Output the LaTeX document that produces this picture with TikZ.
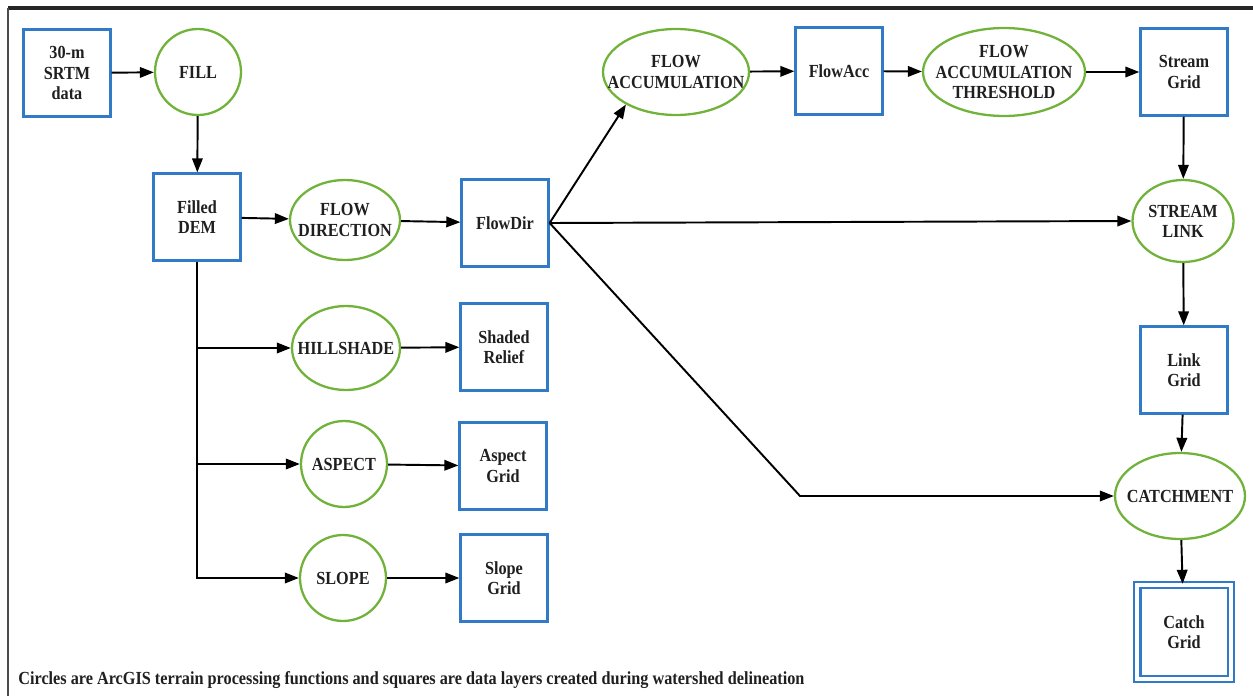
\documentclass[tikz,border=0pt]{standalone}
\usepackage{fontspec}
\setmainfont{Liberation Serif}[FakeStretch=0.88]
\usepackage{xcolor}
\usepackage{tikz}
\usetikzlibrary{positioning,arrows.meta,shapes.geometric,calc}

\definecolor{boxblue}{RGB}{48,122,200}
\definecolor{funcgreen}{RGB}{112,178,58}

\begin{document}
\begin{tikzpicture}[
  x=0.02cm, y=-0.02cm,
  >=Triangle,
  every node/.style={font=\fontsize{10.5}{11.5}\selectfont\bfseries, text=black!88},
  databox/.style={draw=boxblue, line width=1.3pt, minimum width=1.74cm,
    minimum height=1.74cm, align=center, inner sep=0pt},
  catchbox/.style={databox, double=white, double distance=2.5pt,
    minimum width=1.88cm, minimum height=1.88cm},
  func/.style={draw=funcgreen, ellipse, line width=1.3pt, align=center,
    inner sep=-12pt},
  arr/.style={-{Triangle[length=8pt,width=6pt]}, line width=1.1pt},
]
\useasboundingbox (0,0) rectangle (1253,696);

% Frame
\draw[line width=2pt, black!85] (8,8) -- (1253,8);
\draw[line width=0.8pt, black!70] (8,8) -- (8,696);

% Input and fill
\node[databox] (srtm) at (67,73) {30-m\\SRTM\\data};
\node[func, minimum width=1.72cm, minimum height=1.72cm] (fill) at (198,72) {FILL};
\node[databox] (dem) at (197,217) {Filled\\DEM};

% Flow direction
\node[func, minimum width=2.2cm, minimum height=1.6cm] (fdir) at (345,220) {FLOW\\DIRECTION};
\node[databox] (fd) at (505,223) {FlowDir};

% Terrain layers
\node[func, minimum width=2.16cm, minimum height=1.68cm] (hill) at (346,348) {HILLSHADE};
\node[databox] (shaded) at (504,347) {Shaded\\Relief};
\node[func, minimum width=1.72cm, minimum height=1.72cm] (aspect) at (344,464) {ASPECT};
\node[databox] (aspgrid) at (503,466) {Aspect\\Grid};
\node[func, minimum width=1.72cm, minimum height=1.72cm] (slope) at (343,578) {SLOPE};
\node[databox] (slpgrid) at (504,578) {Slope\\Grid};

% Flow accumulation and streams
\node[func, minimum width=2.92cm, minimum height=1.72cm] (facc) at (676,72) {FLOW\\ACCUMULATION};
\node[databox] (fa) at (839,71) {FlowAcc};
\node[func, minimum width=3.24cm, minimum height=1.76cm] (thresh) at (1004,72) {FLOW\\ACCUMULATION\\THRESHOLD};
\node[databox] (sgrid) at (1184,72) {Stream\\Grid};
\node[func, minimum width=2.02cm, minimum height=1.64cm] (slink) at (1183,221) {STREAM\\LINK};
\node[databox] (lgrid) at (1184,370) {Link\\Grid};
\node[func, minimum width=2.6cm, minimum height=1.72cm] (catch) at (1180,496) {CATCHMENT};
\node[catchbox] (cgrid) at (1184,632) {Catch\\Grid};
\coordinate (catbend) at (800,496);

% Note
\node[anchor=base west, inner sep=0pt] (note) at (18,684)
  {Circles are ArcGIS terrain processing functions and squares are data layers created during watershed delineation};

% Connectors
\draw[arr] (srtm) -- (fill);
\draw[arr] (fill) -- (dem);
\draw[arr] (dem) -- (fdir);
\draw[arr] (fdir) -- (fd);
\draw[arr] (dem.south) |- (hill);
\draw[arr] (dem.south) |- (aspect);
\draw[arr] (dem.south) |- (slope);
\draw[arr] (hill) -- (shaded);
\draw[arr] (aspect) -- (aspgrid);
\draw[arr] (slope) -- (slpgrid);
\draw[arr] (fd.east) -- (facc.213);
\draw[arr] (fd.east) -- (slink.west);
\draw[arr] (fd.east) -- (catbend) -- (catch.west);
\draw[arr] (facc) -- (fa);
\draw[arr] (fa) -- (thresh);
\draw[arr] (thresh) -- (sgrid);
\draw[arr] (sgrid) -- (slink);
\draw[arr] (slink) -- (lgrid);
\draw[arr] (lgrid) -- (catch);
\draw[arr] (catch) -- (cgrid);

\end{tikzpicture}
\end{document}
